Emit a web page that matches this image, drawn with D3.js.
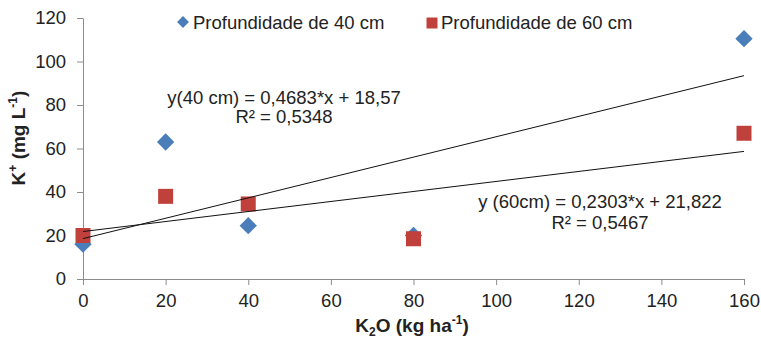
<!DOCTYPE html>
<html>
<head>
<meta charset="utf-8">
<script src="https://cdn.jsdelivr.net/npm/d3@7"></script>
<style>
  body { margin: 0; background: #fff; }
  svg { display: block; font-family: "Liberation Sans", Arial, sans-serif; }
  .tick text { font-size: 18.5px; fill: #222; }
  .domain, .tick line { stroke: #8c8c8c; }
</style>
</head>
<body>
<div id="chart"></div>
<script>
// doses of K2O (kg/ha)
const doses = [0, 20, 40, 80, 160];
// K+ (mg/L)
const depth40 = [16, 63, 24.5, 20, 110.5];
const depth60 = [20, 38, 34.5, 18.5, 67];
const seriesNames = ["Profundidade de 40 cm", "Profundidade de 60 cm"];
// trend lines shown in the chart: [slope, intercept]
const fit40 = [0.4683, 18.57];
const fit60 = [0.2303, 21.822];
const eqLabels40 = ["y(40 cm) = 0,4683*x + 18,57", "R\u00b2 = 0,5348"];
const eqLabels60 = ["y (60cm) = 0,2303*x + 21,822", "R\u00b2 = 0,5467"];
const xTicks = [0, 20, 40, 60, 80, 100, 120, 140, 160];
const yTicks = [0, 20, 40, 60, 80, 100, 120];

const width = 761, height = 340;
const margin = {top: 18, right: 17, bottom: 61, left: 83};
const blue = "#4a7ebb", red = "#c0403c";

let svg = d3.select("#chart").append("svg")
    .attr("width", width).attr("height", height);

let x = d3.scaleLinear().domain([0, 160]).range([margin.left, width - margin.right]);
let y = d3.scaleLinear().domain([0, 120]).range([height - margin.bottom, margin.top]);

// axes
svg.append("g")
    .attr("transform", `translate(0,${y(0)})`)
    .call(d3.axisBottom(x).tickValues(xTicks).tickSize(6).tickPadding(9).tickSizeOuter(0))
    .call(g => g.selectAll(".tick text").attr("dy", "0.71em"));

svg.append("g")
    .attr("transform", `translate(${x(0)},0)`)
    .call(d3.axisLeft(y).tickValues(yTicks).tickSize(6).tickPadding(11).tickSizeOuter(0));

let diamond = d3.symbol().type(d3.symbolSquare).size(150);
let square = d3.symbol().type(d3.symbolSquare).size(225);

// points
svg.append("g").selectAll("path")
    .data(doses.map((d, i) => [d, depth40[i]]))
    .enter().append("path")
    .attr("d", diamond)
    .attr("fill", blue)
    .attr("transform", d => `translate(${x(d[0])},${y(d[1])}) rotate(45)`);

svg.append("g").selectAll("path")
    .data(doses.map((d, i) => [d, depth60[i]]))
    .enter().append("path")
    .attr("d", square)
    .attr("fill", red)
    .attr("transform", d => `translate(${x(d[0])},${y(d[1])})`);

// trend lines
let line = d3.line().x(d => x(d[0])).y(d => y(d[1]));
[fit40, fit60].forEach(f => {
    svg.append("path")
        .datum([0, 160].map(v => [v, f[0] * v + f[1]]))
        .attr("d", line)
        .attr("fill", "none")
        .attr("stroke", "#111")
        .attr("stroke-width", 1);
});

// equations
function eq(lines, cx, y0, y1) {
    let g = svg.append("g").attr("font-size", 18.5).attr("fill", "#222").attr("text-anchor", "middle");
    g.append("text").attr("x", cx).attr("y", y0).text(lines[0]);
    g.append("text").attr("x", cx).attr("y", y1).text(lines[1]);
}
eq(eqLabels40, 284, 104, 123);
eq(eqLabels60, 600, 208, 229);

// legend
let leg = svg.append("g").attr("font-size", 18.5).attr("fill", "#222");
leg.append("path").attr("d", d3.symbol().type(d3.symbolSquare).size(70))
    .attr("fill", blue).attr("transform", "translate(183,22) rotate(45)");
leg.append("text").attr("x", 193).attr("y", 29).text(seriesNames[0]);
leg.append("path").attr("d", d3.symbol().type(d3.symbolSquare).size(121))
    .attr("fill", red).attr("transform", "translate(432,23)");
leg.append("text").attr("x", 441).attr("y", 29).text(seriesNames[1]);

// axis titles
let xt = svg.append("text")
    .attr("x", 412).attr("y", 332)
    .attr("text-anchor", "middle")
    .attr("font-size", 19).attr("font-weight", "bold").attr("fill", "#222");
xt.append("tspan").text("K");
xt.append("tspan").attr("font-size", 12).attr("dy", 4).text("2");
xt.append("tspan").attr("dy", -4).text("O (kg ha");
xt.append("tspan").attr("font-size", 12).attr("dy", -8).text("-1");
xt.append("tspan").attr("dy", 8).text(")");

let yt = svg.append("text")
    .attr("transform", "translate(25,138) rotate(-90)")
    .attr("text-anchor", "middle")
    .attr("font-size", 19).attr("font-weight", "bold").attr("fill", "#222");
yt.append("tspan").text("K");
yt.append("tspan").attr("font-size", 12).attr("dy", -8).text("+");
yt.append("tspan").attr("dy", 8).text(" (mg L");
yt.append("tspan").attr("font-size", 12).attr("dy", -8).text("-1");
yt.append("tspan").attr("dy", 8).text(")");
</script>
</body>
</html>
